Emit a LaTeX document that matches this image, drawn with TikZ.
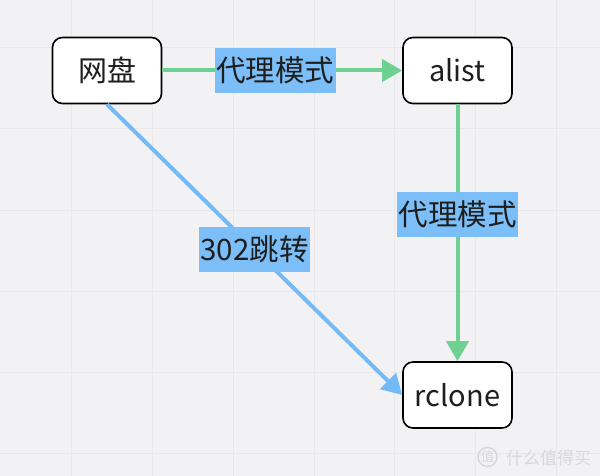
\documentclass[tikz,border=0pt]{standalone}
\usepackage{fontspec}
\setmainfont{Noto Sans CJK SC}
\usetikzlibrary{arrows.meta}
\definecolor{bgc}{HTML}{F2F2F4}
\definecolor{gridc}{HTML}{E8E8EB}
\definecolor{greenc}{HTML}{6FD191}
\definecolor{bluec}{HTML}{74BAF6}
\definecolor{lblbg}{HTML}{7CBFF8}
\definecolor{txtc}{HTML}{1E1E1E}
\definecolor{wmc}{HTML}{D8D8DC}
\tikzset{
  box/.style={draw=black, line width=1.6pt, fill=white, rounded corners=10pt,
    minimum width=109pt, minimum height=66pt, inner sep=0pt,
    font=\fontsize{29}{31}\selectfont, text=txtc},
  lbl/.style={fill=lblbg, inner xsep=1.5pt, inner ysep=0pt, minimum height=45pt,
    font=\fontsize{29.5}{31}\selectfont, text=txtc},
  gline/.style={draw=greenc, line width=4pt, -{Triangle[length=20pt,width=22pt]}},
  bline/.style={draw=bluec, line width=4pt, -{Triangle[length=20pt,width=22pt]}},
}
\begin{document}
\begin{tikzpicture}[x=1pt,y=-1pt]
\fill[bgc] (0,0) rectangle (600,476);
\useasboundingbox (0,0) rectangle (600,476);
\foreach \gx in {71,152,233,314,394,475,556} \draw[gridc, line width=1pt] (\gx,0) -- (\gx,476);
\foreach \gy in {48,129,210,291,372,453} \draw[gridc, line width=1pt] (0,\gy) -- (600,\gy);
\node[box] (wp) at (107,70.5) {网盘};
\node[box] (al) at (457.5,70.5) {alist};
\node[box] (rc) at (457.5,395) {rclone};
\draw[gline] (wp.east) -- node[lbl, pos=0.47] (l1) {代理模式} (al.west);
\draw[gline] (al.south) -- node[lbl, pos=0.43] (l2) {代理模式} (rc.north);
\draw[bline] (wp.south) -- node[lbl, pos=0.5] (l3) {302跳转} (rc.west);
\node[draw=wmc, line width=1.5pt, circle, inner sep=0.5pt, text=wmc,
  font=\fontsize{13}{13}\selectfont] (wm1) at (487.5,457) {值};
\node[anchor=west, inner sep=0pt, text=wmc, font=\fontsize{17}{17}\selectfont]
  (wm2) at (506,458) {什么值得买};
\end{tikzpicture}
\end{document}
